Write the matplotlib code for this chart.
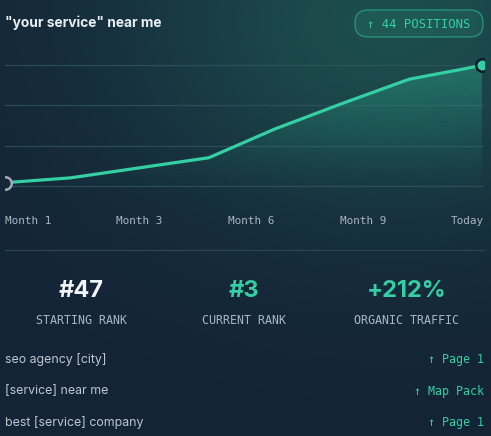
import numpy as np
import matplotlib
matplotlib.use("Agg")
import matplotlib.pyplot as plt
from matplotlib.patches import FancyBboxPatch, Polygon

# datos
week = [0, 9.5, 19.5, 29.5, 39, 49, 58.5, 69]
visibility = [0.8, 2.0, 4.5, 7.0, 14.1, 20.6, 26.5, 29.9]
grid_levels = [0, 10, 20, 30]
tick_labels = ["Month 1", "Month 3", "Month 6", "Month 9", "Today"]
stat_values = ["#47", "#3", "+212%"]
stat_labels = ["STARTING RANK", "CURRENT RANK", "ORGANIC TRAFFIC"]
keywords = ["seo agency [city]", "[service] near me", "best [service] company"]
results = ["\u2191 Page 1", "\u2191 Map Pack", "\u2191 Page 1"]
title = '"your service" near me'
badge = "\u2191 44 POSITIONS"

W, H = 491, 436
TEAL = "#34cfa3"
MONO = "DejaVu Sans Mono"
SANS = "Inter"
XMAX = 69.3
YLO, YHI = -3.5, 32.5

fig = plt.figure(figsize=(W / 100, H / 100), dpi=100)

# fondo con degradado
bg = fig.add_axes([0, 0, 1, 1])
yy, xx = np.mgrid[0:1:200j, 0:1:220j]
base = np.array([0x14, 0x24, 0x37]) / 255
glow = np.array([0x1d, 0x4d, 0x4d]) / 255
w = np.exp(-(((xx - 0.8) / 0.55) ** 2 + ((yy - 0.05) / 0.45) ** 2))
w = np.clip(w, 0, 1)[..., None]
img = base * (1 - w) + glow * w
bg.imshow(img, extent=[0, 1, 1, 0], aspect="auto")
bg.set_xlim(0, 1)
bg.set_ylim(1, 0)
bg.axis("off")

def fx(px):
    return px / W

def fy(py):
    return 1 - py / H

# grafica
ax = fig.add_axes([fx(5), fy(200), fx(479), 145 / H])
ax.set_xlim(0, XMAX)
ax.set_ylim(YLO, YHI)
ax.patch.set_alpha(0)
for s in ax.spines.values():
    s.set_visible(False)
ax.set_xticks([])
ax.set_yticks([])
for g in grid_levels:
    ax.axhline(g, color="#2f5560", lw=0.9, alpha=0.8, zorder=1)

# relleno degradado bajo la linea
grad = np.linspace(0, 1, 256)[:, None]
fill = np.zeros((256, 1, 4))
fill[..., 0] = 0x2e / 255
fill[..., 1] = 0xb8 / 255
fill[..., 2] = 0x98 / 255
fill[..., 3] = 0.42 * (1 - grad) ** 1.3
im = ax.imshow(fill, extent=[0, XMAX, YLO, YHI], aspect="auto", origin="upper", zorder=2)
poly = Polygon(list(zip(week, visibility)) + [(week[-1], YLO), (0, YLO)], closed=True,
               facecolor="none", edgecolor="none", transform=ax.transData)
ax.add_patch(poly)
im.set_clip_path(poly)

ax.plot(week, visibility, color=TEAL, lw=2.3, zorder=3, solid_capstyle="round")
ax.plot(week[0], visibility[0], "o", ms=9, mfc="#152638", mec="#a0aab4", mew=1.8, zorder=4)
ax.plot(week[-1], visibility[-1], "o", ms=9, mfc=TEAL, mec="#0f1c28", mew=1.8, zorder=4)

# titulo y badge
fig.text(fx(5), fy(23), title, family=SANS, weight="bold", size=9.9,
         color="#e9eef1", ha="left", va="center")
bx = FancyBboxPatch((fx(355), fy(37)), fx(128), 27 / H,
                    boxstyle="round,pad=0,rounding_size=0.028",
                    transform=fig.transFigure, facecolor=TEAL, alpha=0.1,
                    edgecolor="none")
fig.patches.append(bx)
bx2 = FancyBboxPatch((fx(355), fy(37)), fx(128), 27 / H,
                     boxstyle="round,pad=0,rounding_size=0.028",
                     transform=fig.transFigure, facecolor="none",
                     edgecolor=TEAL, alpha=0.5, lw=1)
fig.patches.append(bx2)
fig.text(fx(419), fy(24), badge, family=MONO, size=8.8, color=TEAL,
         ha="center", va="center")

# etiquetas del eje x (espaciado tipo space-between)
lefts = [5, 116.5, 228, 339.5]
for lab, lx in zip(tick_labels[:-1], lefts):
    fig.text(fx(lx), fy(221), lab, family=MONO, size=7.9, color="#a9b6c2",
             ha="left", va="center")
fig.text(fx(484), fy(221), tick_labels[-1], family=MONO, size=7.9, color="#a9b6c2",
         ha="right", va="center")

# separador
fig.add_artist(plt.Line2D([fx(5), fx(484)], [fy(250), fy(250)],
                          transform=fig.transFigure, color="#2c4452", lw=0.9))

# estadisticas
centers = [81, 244, 407]
colors = ["#f2f5f7", TEAL, TEAL]
for v, lab, cx, c in zip(stat_values, stat_labels, centers, colors):
    fig.text(fx(cx), fy(291), v, family=SANS, weight="bold", size=17, color=c,
             ha="center", va="center")
    fig.text(fx(cx), fy(321), lab, family=MONO, size=8.4, color="#a9b6c2",
             ha="center", va="center")

# palabras clave
rows = [359, 391, 422]
for kw, r, ry in zip(keywords, results, rows):
    fig.text(fx(5), fy(ry), kw, family=SANS, size=8.9, color="#bcc5ce",
             ha="left", va="center")
    fig.text(fx(484), fy(ry), r, family=MONO, size=8.4, color=TEAL,
             ha="right", va="center")

fig.savefig("out.png", dpi=100)
